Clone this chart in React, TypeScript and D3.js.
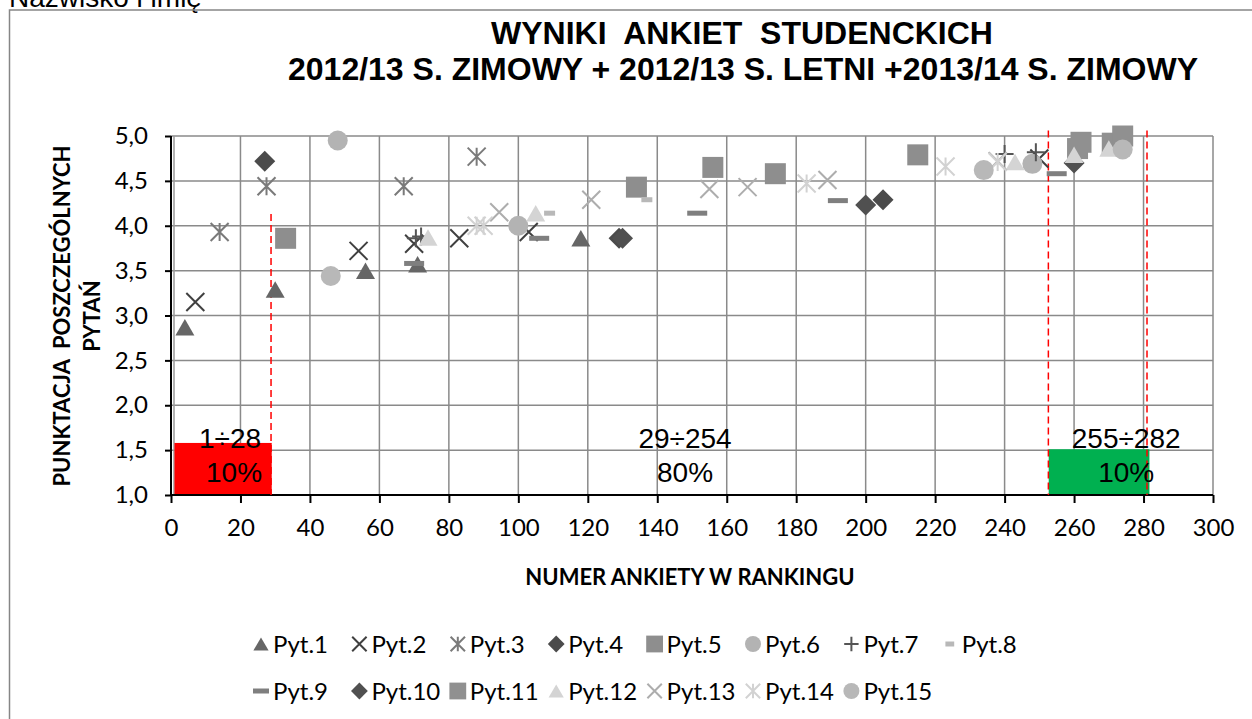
import React, { useRef, useEffect } from 'react';
import * as d3 from 'd3';

// axis ticks
const xTicks = [0, 20, 40, 60, 80, 100, 120, 140, 160, 180, 200, 220, 240, 260, 280, 300];
const yTicks = [1.0, 1.5, 2.0, 2.5, 3.0, 3.5, 4.0, 4.5, 5.0];

// series values: [numer ankiety, punktacja]
const pyt1 = [[4, 2.87], [30, 3.29], [56, 3.5], [71, 3.57], [118, 3.86]];
const pyt2 = [[7, 3.15], [54, 3.72], [70, 3.8], [83, 3.86], [103, 3.93], [250, 4.75]];
const pyt3 = [[14, 3.93], [27.5, 4.44], [67, 4.44], [88, 4.77]];
const pyt4 = [[27, 4.72], [129, 3.86], [205, 4.29]];
const pyt5 = [[33, 3.86], [134, 4.43], [156, 4.65], [174, 4.58], [215, 4.79]];
const pyt6 = [[48, 4.95], [100, 4.0], [248, 4.69]];
const pyt7 = [[70.5, 3.86], [72, 3.88], [240, 4.8], [249, 4.82]];
const pyt8 = [[109, 4.14], [137, 4.29]];
const pyt9 = [[70, 3.58], [106, 3.86], [151.5, 4.14], [192, 4.28], [255, 4.58]];
const pyt10 = [[130, 3.86], [200, 4.23], [260, 4.7]];
const pyt11 = [[261, 4.86], [262, 4.93], [271, 4.92], [274, 5.0]];
const pyt12 = [[74, 3.87], [105, 4.14], [243, 4.71], [260, 4.79], [270, 4.86]];
const pyt13 = [[94.5, 4.15], [121, 4.29], [155, 4.41], [166, 4.43], [189, 4.51], [238, 4.72]];
const pyt14 = [[88, 4.0], [90, 4.0], [183, 4.47], [223, 4.66], [238, 4.71]];
const pyt15 = [[46, 3.44], [234, 4.62], [274, 4.85]];

const seriesNames = ['Pyt.1', 'Pyt.2', 'Pyt.3', 'Pyt.4', 'Pyt.5', 'Pyt.6', 'Pyt.7', 'Pyt.8',
    'Pyt.9', 'Pyt.10', 'Pyt.11', 'Pyt.12', 'Pyt.13', 'Pyt.14', 'Pyt.15'];
const seriesValues = [pyt1, pyt2, pyt3, pyt4, pyt5, pyt6, pyt7, pyt8, pyt9, pyt10, pyt11, pyt12, pyt13, pyt14, pyt15];

// ranking bands
const bandRanges = ['1÷28', '29÷254', '255÷282'];
const bandShares = ['10%', '80%', '10%'];
const bandLabelX = [17, 148, 275];
const colouredBands = [[1, 29, 1.58], [252.7, 281.7, 1.51]]; // from, to, top
const bandLimits = [[28.8, 4.13], [252.6, 5.06], [281, 5.06]]; // x, top

// marker look per series
const markerType = ['triangle', 'x', 'star', 'diamond', 'square', 'circle', 'plus', 'shortDash',
    'dash', 'diamond', 'square', 'triangle', 'x', 'star', 'circle'];
const markerColor = ['#666666', '#404040', '#7a7a7a', '#4b4b4b', '#8e8e8e', '#b3b3b3', '#555555', '#b8b8b8',
    '#7f7f7f', '#505050', '#909090', '#d4d4d4', '#adadad', '#d2d2d2', '#b8b8b8'];

const stroked = t => t === 'x' || t === 'star' || t === 'plus';

const markerPath = (type, k) => {
    const p = d3.path();
    if (type === 'triangle') {
        const w = 9.5 * k, h = 16.5 * k;
        p.moveTo(0, -h / 2); p.lineTo(w, h / 2); p.lineTo(-w, h / 2); p.closePath();
    } else if (type === 'square') {
        const s = 10.5 * k;
        p.rect(-s, -s, 2 * s, 2 * s);
    } else if (type === 'diamond') {
        const s = 10.5 * k;
        p.moveTo(0, -s); p.lineTo(s, 0); p.lineTo(0, s); p.lineTo(-s, 0); p.closePath();
    } else if (type === 'circle') {
        p.arc(0, 0, 10 * k, 0, 2 * Math.PI);
    } else if (type === 'x') {
        const s = 9 * k;
        p.moveTo(-s, -s); p.lineTo(s, s); p.moveTo(-s, s); p.lineTo(s, -s);
    } else if (type === 'star') {
        const s = 9 * k;
        p.moveTo(-s, -s); p.lineTo(s, s); p.moveTo(-s, s); p.lineTo(s, -s);
        p.moveTo(0, -s); p.lineTo(0, s);
    } else if (type === 'plus') {
        const s = 9 * k;
        p.moveTo(-s, 0); p.lineTo(s, 0); p.moveTo(0, -s); p.lineTo(0, s);
    } else if (type === 'dash') {
        p.rect(-10 * k, -2.5, 20 * k, 5);
    } else if (type === 'shortDash') {
        p.rect(-5.5 * k, -2.5, 11 * k, 5);
    }
    return p.toString();
};

const SurveyChart = () => {
    const svgRef = useRef(null);

    useEffect(() => {
        const svg = d3.select(svgRef.current);
        svg.selectAll('*').remove();

        const x = d3.scaleLinear().domain([0, 300]).range([171, 1213]);
        const y = d3.scaleLinear().domain([1, 5]).range([495, 136]);
        const tickFont = 'Lato, "Open Sans", sans-serif';
        const titleFont = '"Liberation Sans", Arial, sans-serif';

        svg.append('rect').attr('width', 1252).attr('height', 719).attr('fill', '#ffffff');

        // page header, cut off at the top
        svg.append('text')
            .attr('x', 9).attr('y', 7)
            .attr('font-family', titleFont).attr('font-size', 28)
            .text('Nazwisko i imię');

        // chart frame
        svg.append('rect')
            .attr('x', 9.5).attr('y', 10).attr('width', 1300).attr('height', 760)
            .attr('fill', 'none').attr('stroke', '#868686').attr('stroke-width', 1.5);

        // title
        const title = svg.append('text')
            .attr('font-family', titleFont).attr('font-weight', 'bold').attr('font-size', 32)
            .attr('text-anchor', 'middle').style('white-space', 'pre');
        title.append('tspan').attr('x', 742).attr('y', 44).text('WYNIKI  ANKIET  STUDENCKICH');
        title.append('tspan').attr('x', 743).attr('y', 80).text('2012/13 S. ZIMOWY + 2012/13 S. LETNI +2013/14 S. ZIMOWY');

        // grid
        svg.append('g').selectAll('line')
            .data(xTicks.filter(d => d > 0))
            .join('line')
            .attr('x1', d => x(d)).attr('x2', d => x(d))
            .attr('y1', y(5)).attr('y2', y(1))
            .attr('stroke', '#8a8a8a').attr('stroke-width', 1.5);
        svg.append('g').selectAll('line')
            .data(yTicks.filter(d => d > 1))
            .join('line')
            .attr('x1', x(0)).attr('x2', x(300))
            .attr('y1', d => y(d)).attr('y2', d => y(d))
            .attr('stroke', '#8a8a8a').attr('stroke-width', 1.5);
        svg.append('line')
            .attr('x1', x(0) + 3).attr('x2', x(0) + 3).attr('y1', y(5)).attr('y2', y(1))
            .attr('stroke', '#9a9a9a').attr('stroke-width', 1.5);

        // coloured bands
        svg.append('g').selectAll('rect')
            .data(colouredBands)
            .join('rect')
            .attr('x', d => x(d[0])).attr('width', d => x(d[1]) - x(d[0]))
            .attr('y', d => y(d[2])).attr('height', d => y(1) - y(d[2]))
            .attr('fill', (d, i) => i === 0 ? '#ff0000' : '#00b050');

        // axes
        const xAxis = svg.append('g').attr('transform', `translate(0,${y(1)})`)
            .call(d3.axisBottom(x).tickValues(xTicks).tickSize(8).tickPadding(16).tickFormat(d3.format('d')));
        const yAxis = svg.append('g').attr('transform', `translate(${x(0)},0)`)
            .call(d3.axisLeft(y).tickValues(yTicks).tickSize(6).tickPadding(17)
                .tickFormat(d => d3.format('.1f')(d).replace('.', ',')));
        [xAxis, yAxis].forEach(a => {
            a.select('.domain').attr('stroke', '#000').attr('stroke-width', 2);
            a.selectAll('.tick line').attr('stroke', '#000').attr('stroke-width', 2);
            a.selectAll('.tick text').attr('font-family', tickFont).attr('font-size', 24).attr('fill', '#000');
        });
        xAxis.select('.domain').attr('d', `M${x(0)},0H${x(300)}`);
        yAxis.select('.domain').attr('d', `M0,${y(1)}V${y(5)}`);

        // band limit lines
        svg.append('g').selectAll('line')
            .data(bandLimits)
            .join('line')
            .attr('x1', d => x(d[0])).attr('x2', d => x(d[0]))
            .attr('y1', d => y(d[1])).attr('y2', y(1))
            .attr('stroke', '#ff0000').attr('stroke-width', 1.5).attr('stroke-dasharray', '7,4');

        // band labels
        const bandLabels = svg.append('g')
            .attr('font-family', titleFont).attr('font-size', 28).attr('text-anchor', 'middle');
        bandLabels.selectAll('text.range')
            .data(bandRanges)
            .join('text').attr('class', 'range')
            .attr('x', (d, i) => x(bandLabelX[i])).attr('y', y(1.524))
            .text(d => d);
        bandLabels.selectAll('text.share')
            .data(bandShares)
            .join('text').attr('class', 'share')
            .attr('x', (d, i) => x(bandLabelX[i]) + (i === 0 ? 4 : 0)).attr('y', y(1.145))
            .text(d => d);

        // markers
        seriesValues.forEach((vals, i) => {
            const t = markerType[i];
            const c = markerColor[i];
            svg.append('g').selectAll('path')
                .data(vals)
                .join('path')
                .attr('transform', d => `translate(${x(d[0])},${y(d[1])})`)
                .attr('d', markerPath(t, 1))
                .attr('fill', stroked(t) ? 'none' : c)
                .attr('stroke', stroked(t) ? c : 'none')
                .attr('stroke-width', 2);
        });

        // axis titles
        svg.append('text')
            .attr('x', 690).attr('y', 585)
            .attr('text-anchor', 'middle')
            .attr('font-family', tickFont).attr('font-weight', 'bold').attr('font-size', 22)
            .text('NUMER ANKIETY W RANKINGU');
        const yTitle = svg.append('text')
            .attr('transform', 'translate(0,316) rotate(-90)')
            .attr('text-anchor', 'middle')
            .attr('font-family', tickFont).attr('font-weight', 'bold').attr('font-size', 22)
            .style('white-space', 'pre');
        yTitle.append('tspan').attr('x', 0).attr('y', 70).text('PUNKTACJA  POSZCZEGÓLNYCH');
        yTitle.append('tspan').attr('x', 0).attr('y', 100).text('PYTAŃ');

        // legend
        const legend = svg.append('g');
        const item = legend.selectAll('g')
            .data(seriesNames)
            .join('g')
            .attr('transform', (d, i) => `translate(${261 + (i % 8) * 98.4},${i < 8 ? 644 : 691})`);
        item.append('path')
            .attr('d', (d, i) => markerPath(markerType[i], 0.8))
            .attr('fill', (d, i) => stroked(markerType[i]) ? 'none' : markerColor[i])
            .attr('stroke', (d, i) => stroked(markerType[i]) ? markerColor[i] : 'none')
            .attr('stroke-width', 2);
        item.append('text')
            .attr('x', 12).attr('y', 8.5)
            .attr('font-family', tickFont).attr('font-size', 24)
            .text(d => d);
    }, []);

    return <svg ref={svgRef} width={1252} height={719} style={{ position: 'absolute', left: 0, top: 0 }}></svg>;
};

export default function App() {
    return <SurveyChart />;
}
